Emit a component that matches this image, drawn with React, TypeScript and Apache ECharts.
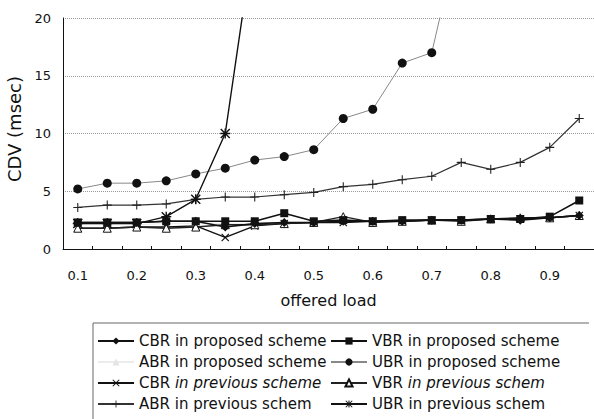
import React, { useEffect, useRef } from "react";
import * as echarts from "echarts";

const loads = ["0.1", "0.15", "0.2", "0.25", "0.3", "0.35", "0.4", "0.45", "0.5", "0.55", "0.6", "0.65", "0.7", "0.75", "0.8", "0.85", "0.9", "0.95"];
const yTicks = [0, 5, 10, 15, 20];

const cbrProposed = [2.3, 2.3, 2.3, 2.4, 2.4, 1.9, 2.2, 2.3, 2.3, 2.4, 2.4, 2.4, 2.5, 2.5, 2.6, 2.5, 2.7, 2.9];
const vbrProposed = [2.3, 2.3, 2.3, 2.4, 2.4, 2.4, 2.4, 3.1, 2.4, 2.5, 2.4, 2.5, 2.5, 2.5, 2.6, 2.6, 2.8, 4.2];
const abrProposed = [2.1, 2.1, 2.1, 2.2, 2.2, 2.2, 2.2, 2.3, 2.3, 2.4, 2.4, 2.4, 2.5, 2.5, 2.6, 2.6, 2.7, 2.8];
const ubrProposed = [5.2, 5.7, 5.7, 5.9, 6.5, 7.0, 7.7, 8.0, 8.6, 11.3, 12.1, 16.1, 17.0, 28.0, null, null, null, null];
const cbrPrevious = [1.8, 1.8, 1.9, 1.9, 2.0, 1.0, 2.0, 2.2, 2.3, 2.3, 2.4, 2.4, 2.5, 2.5, 2.6, 2.6, 2.7, 2.9];
const vbrPrevious = [1.8, 1.8, 1.9, 1.8, 1.9, 2.1, 2.1, 2.2, 2.3, 2.8, 2.3, 2.4, 2.5, 2.4, 2.6, 2.7, 2.7, 2.9];
const abrPrevious = [3.6, 3.8, 3.8, 3.9, 4.3, 4.5, 4.5, 4.7, 4.9, 5.4, 5.6, 6.0, 6.3, 7.5, 6.9, 7.5, 8.8, 11.3];
const ubrPrevious = [2.2, 2.2, 2.2, 2.8, 4.3, 10.0, 27.5, null, null, null, null, null, null, null, null, null, null, null];

const FONT = "DejaVu Sans";
const X_SYMBOL = "path://M0,1L1,0L5,4L9,0L10,1L6,5L10,9L9,10L5,6L1,10L0,9L4,5Z";
const PLUS_SYMBOL = "path://M4.4,0H5.6V4.4H10V5.6H5.6V10H4.4V5.6H0V4.4H4.4Z";
const STAR_SYMBOL =
  "path://M4.3,0H5.7V10H4.3Z M0,4.3H10V5.7H0Z M0,1L1,0L10,9L9,10Z M9,0L10,1L1,10L0,9Z";

const italicNames = ["CBR in previous scheme", "VBR in previous schem"];

export default function App() {
  const ref = useRef<HTMLDivElement>(null);
  useEffect(() => {
    if (!ref.current) return;
    const chart = echarts.init(ref.current, undefined, { renderer: "svg" });
    const mk = (name: string, data: any[], opts: any) => ({
      name,
      type: "line",
      data,
      clip: true,
      connectNulls: false,
      ...opts,
    });
    const legendCommon = {
      orient: "vertical",
      top: 333,
      itemWidth: 36,
      itemHeight: 9,
      itemGap: 5,
      padding: 0,
      textStyle: {
        fontFamily: FONT,
        fontSize: 15,
        color: "#111",
        lineHeight: 16,
        rich: {
          n: { fontFamily: FONT, fontSize: 15, color: "#111", lineHeight: 16 },
          i: { fontFamily: FONT, fontSize: 15, color: "#111", fontStyle: "italic", lineHeight: 16 },
        },
      },
      formatter: (name: string) => {
        if (italicNames.includes(name)) {
          const first = name.slice(0, 3);
          const rest = name.slice(4);
          return `{n|${first}} {i|${rest}}`;
        }
        return `{n|${name}}`;
      },
    };
    chart.setOption({
      animation: false,
      backgroundColor: "#fff",
      grid: { left: 63, top: 18, width: 534, height: 231, containLabel: false },
      xAxis: {
        type: "category",
        data: loads,
        boundaryGap: true,
        name: "offered load",
        nameLocation: "middle",
        nameGap: 43,
        nameTextStyle: { fontFamily: FONT, fontSize: 16, color: "#111" },
        axisLine: { show: true, lineStyle: { color: "#111", width: 1 } },
        axisTick: { show: true, inside: true, length: 3, interval: 0, lineStyle: { color: "#111" } },
        axisLabel: { interval: 1, margin: 20, fontFamily: FONT, fontSize: 13, color: "#111" },
        splitLine: { show: false },
      },
      yAxis: {
        type: "value",
        min: yTicks[0],
        max: yTicks[yTicks.length - 1],
        interval: 5,
        axisLine: { show: true, lineStyle: { color: "#111", width: 1 } },
        axisTick: { show: false },
        axisLabel: { margin: 12, fontFamily: FONT, fontSize: 13, color: "#111" },
        splitLine: { show: true, lineStyle: { color: "#9a9a9a", type: "dotted", width: 1 } },
      },
      legend: [
        { ...legendCommon, left: 97, data: ["CBR in proposed scheme", "ABR in proposed scheme", "CBR in previous scheme", "ABR in previous schem"] },
        { ...legendCommon, left: 330, data: ["VBR in proposed scheme", "UBR in proposed scheme", "VBR in previous schem", "UBR in previous schem"] },
      ],
      graphic: [
        {
          type: "text",
          left: 5,
          top: 76,
          rotation: Math.PI / 2,
          style: { text: "CDV (msec)", fontFamily: FONT, fontSize: 18, fill: "#111" },
        },
        {
          type: "polyline",
          shape: { points: [[93, 430], [93, 323], [589, 323]] },
          style: { fill: "none", stroke: "#666", lineWidth: 1 },
          silent: true,
        },
      ],
      series: [
        mk("ABR in proposed scheme", abrProposed, {
          symbol: "triangle",
          symbolSize: 5,
          itemStyle: { color: "#e4e4e4" },
          lineStyle: { color: "#ececec", width: 1 },
          z: 1,
        }),
        mk("UBR in proposed scheme", ubrProposed, {
          symbol: "circle",
          symbolSize: 9,
          itemStyle: { color: "#111" },
          lineStyle: { color: "#888", width: 1 },
        }),
        mk("ABR in previous schem", abrPrevious, {
          symbol: PLUS_SYMBOL,
          symbolSize: 9,
          itemStyle: { color: "#222" },
          lineStyle: { color: "#333", width: 1.2 },
        }),
        mk("UBR in previous schem", ubrPrevious, {
          symbol: STAR_SYMBOL,
          symbolSize: 10,
          itemStyle: { color: "#111" },
          lineStyle: { color: "#111", width: 1.4 },
        }),
        mk("CBR in previous scheme", cbrPrevious, {
          symbol: X_SYMBOL,
          symbolSize: 8,
          itemStyle: { color: "#111" },
          lineStyle: { color: "#111", width: 1.4 },
        }),
        mk("VBR in previous schem", vbrPrevious, {
          symbol: "triangle",
          symbolSize: 8,
          itemStyle: { color: "#fff", borderColor: "#111", borderWidth: 1 },
          lineStyle: { color: "#222", width: 1.4 },
        }),
        mk("CBR in proposed scheme", cbrProposed, {
          symbol: "diamond",
          symbolSize: 9,
          itemStyle: { color: "#111" },
          lineStyle: { color: "#111", width: 1.6 },
        }),
        mk("VBR in proposed scheme", vbrProposed, {
          symbol: "rect",
          symbolSize: 8,
          itemStyle: { color: "#111" },
          lineStyle: { color: "#111", width: 1.6 },
        }),
      ],
    });
    return () => chart.dispose();
  }, []);
  return (
    <div
      ref={ref}
      style={{ position: "fixed", left: 0, top: 0, width: 594, height: 419, background: "#fff" }}
    />
  );
}
